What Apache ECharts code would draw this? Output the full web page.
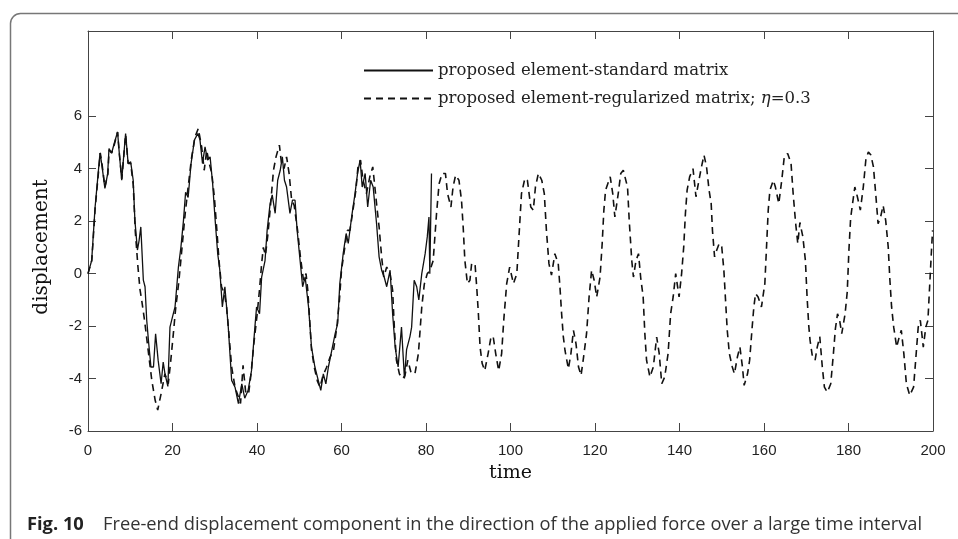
<!DOCTYPE html>
<html>
<head>
<meta charset="utf-8">
<script src="https://cdn.jsdelivr.net/npm/echarts@6/dist/echarts.min.js"></script>
<style>
  html, body { margin: 0; padding: 0; background: #fff; }
  #main { width: 958px; height: 539px; }
</style>
</head>
<body>
<div id="main"></div>
<script>
// solid curve: proposed element-standard matrix (ends near t = 81)
var tSolid = [0, 0.87, 1.66, 2.45, 2.84, 3.23, 4.0, 4.65, 4.97, 5.6, 6.2, 7.0, 7.4, 7.97, 8.9, 9.5, 10.1, 10.7, 11.1, 11.7,
  12.1, 12.5, 13.1, 13.5, 13.9, 14.3, 14.9, 15.5, 16.0, 16.6, 17.3, 17.8, 18.2, 18.9, 19.4, 20.0, 20.6, 21.4, 22.0, 22.6,
  23.1, 23.7, 24.4, 25.2, 26.0, 26.5, 27.1, 27.7, 28.3, 28.9, 29.5, 30.1, 30.7, 31.2, 31.8, 32.4, 33.2, 34.0, 34.8, 35.6,
  36.4, 37.1, 37.9, 38.7, 39.5, 39.9, 40.6, 41.1, 41.9, 42.4, 43.1, 43.6, 44.3, 44.9, 45.5, 46.0, 46.5, 47.0, 47.8, 48.4,
  49.0, 49.5, 50.2, 50.8, 51.4, 52.2, 52.9, 53.7, 54.5, 55.1, 55.7, 56.3, 56.9, 57.7, 58.5, 59.1, 59.6, 60.4, 61.1, 61.6,
  62.4, 63.2, 63.8, 64.4, 64.9, 65.6, 66.2, 66.9, 67.5, 68.3, 68.9, 69.5, 70.1, 70.7, 71.5, 72.1, 72.7, 73.4, 74.2, 74.9,
  75.4, 76.2, 76.6, 77.2, 77.8, 78.3, 79.0, 79.8, 80.3, 80.7, 80.9, 81.3];
var vSolid = [0, 0.5, 2.5, 3.9, 4.6, 4.2, 3.25, 3.8, 4.77, 4.6, 4.96, 5.4, 4.6, 3.56, 5.34, 4.2, 4.26, 3.56, 2.03, 0.9,
  1.27, 1.78, -0.25, -0.5, -1.78, -2.54, -3.56, -3.56, -2.29, -3.3, -4.2, -3.37, -3.8, -4.3, -2.04, -1.65, -1.27, 0.25, 1.02, 2.03,
  3.1, 2.9, 4.2, 5.1, 5.34, 5.1, 4.2, 4.83, 4.33, 4.45, 3.43, 2.03, 0.76, 0.13, -1.27, -0.5, -2.04, -4.07, -4.33, -4.96,
  -4.2, -4.75, -4.45, -3.7, -2.04, -1.27, -1.53, -0.13, 0.5, 1.65, 2.67, 3.0, 2.3, 3.56, 3.94, 4.45, 3.56, 3.3, 2.3, 2.8,
  2.8, 1.65, 0.5, -0.5, -0.13, -1.27, -2.8, -3.56, -4.07, -4.45, -3.82, -4.2, -3.56, -2.93, -2.29, -1.9, -0.38, 0.76, 1.53, 1.15,
  2.16, 3.05, 3.82, 4.33, 3.3, 3.82, 2.54, 3.56, 3.3, 1.9, 0.64, 0.13, -0.13, -0.5, 0.13, -1.53, -2.8, -3.56, -2.04, -4.0,
  -2.9, -2.4, -2.04, -0.25, -0.5, -1.0, 0, 0.76, 1.4, 2.16, 0, 3.82];

// dashed curve: proposed element-regularized matrix, eta = 0.3
var tDashed = [0, 0.9, 1.7, 2.5, 2.9, 3.3, 4.0, 4.7, 5.0, 5.6, 6.2, 7.0, 7.4, 8.0, 8.9, 9.5, 10.1, 10.7, 11.2, 11.8,
  12.3, 12.7, 13.4, 14.0, 14.6, 15.1, 15.9, 16.5, 17.3, 18.2, 19.0, 19.6, 20.2, 20.7, 21.5, 22.2, 23.0, 23.7, 24.5, 25.3,
  26.1, 26.9, 27.5, 28.1, 28.7, 29.3, 29.9, 30.5, 31.0, 31.6, 32.3, 32.8, 33.3, 34.0, 34.8, 35.6, 36.1, 36.7, 37.3, 38.0,
  38.6, 39.3, 40.0, 40.6, 41.1, 41.5, 42.0, 42.6, 43.2, 43.9, 44.5, 45.3, 45.8, 46.4, 47.0, 47.6, 48.2, 48.8, 49.6, 50.3,
  51.0, 51.6, 52.0, 52.4, 52.9, 53.6, 54.3, 54.9, 55.6, 56.4, 57.3, 58.1, 58.9, 59.5, 60.0, 60.8, 61.4, 62.0, 62.6, 63.4,
  63.9, 64.5, 65.1, 65.9, 66.7, 67.4, 67.9, 68.4, 68.9, 69.5, 70.0, 70.7, 71.5, 72.1, 72.5, 73.0, 73.7, 74.4, 75.0, 75.7,
  76.5, 77.4, 78.2, 79.0, 79.6, 80.3, 80.9, 81.7, 82.5, 83.1, 83.8, 84.6, 85.1, 85.9, 86.4, 87.0, 87.8, 88.4, 88.8, 89.2,
  89.8, 90.4, 90.8, 91.6, 92.0, 92.4, 92.8, 93.3, 93.9, 94.7, 95.4, 95.9, 96.5, 97.2, 97.9, 98.4, 99.1, 99.8, 100.7, 101.5,
  102.0, 102.6, 103.4, 104.0, 104.8, 105.4, 105.9, 106.6, 107.4, 108.0, 108.5, 109.1, 109.7, 110.5, 111.3, 111.7, 112.1, 112.5, 112.9, 113.7,
  114.3, 114.9, 115.5, 116.1, 116.7, 117.2, 118.0, 118.6, 119.2, 119.8, 120.4, 121.2, 121.7, 122.1, 122.5, 123.6, 124.2, 124.7, 125.5, 126.1,
  126.7, 127.7, 128.1, 128.7, 129.1, 129.7, 130.3, 130.8, 131.4, 131.8, 132.2, 133.0, 133.8, 134.6, 135.2, 135.8, 136.5, 137.3, 137.9, 138.5,
  139.1, 139.9, 140.5, 141.0, 141.4, 141.8, 142.4, 143.2, 143.9, 144.6, 145.2, 145.8, 146.4, 147.0, 147.5, 147.8, 148.3, 148.8, 149.4, 150.0,
  150.5, 150.9, 151.3, 151.8, 152.5, 153.0, 153.7, 154.3, 154.9, 155.3, 156.1, 156.6, 157.2, 157.6, 158.0, 158.6, 159.4, 160.2, 160.6, 161.0,
  161.4, 162.2, 162.7, 163.5, 164.2, 164.8, 165.6, 166.4, 166.9, 167.5, 168.0, 168.5, 169.2, 169.8, 170.2, 170.6, 170.9, 171.4, 172.1, 172.6,
  173.2, 173.8, 174.3, 175.0, 175.8, 176.4, 176.9, 177.4, 177.9, 178.4, 179.2, 179.7, 180.1, 180.5, 180.9, 181.5, 182.1, 182.8, 183.5, 184.1,
  184.7, 185.3, 185.9, 186.5, 187.0, 187.6, 188.2, 188.8, 189.4, 189.8, 190.2, 190.7, 191.4, 192.0, 192.5, 193.1, 193.7, 194.5, 195.4, 195.9,
  196.5, 197.0, 197.7, 198.3, 198.8, 199.2, 199.6, 199.9];
var vDashed = [0, 0.5, 2.5, 3.9, 4.6, 4.2, 3.3, 3.8, 4.7, 4.6, 4.9, 5.4, 4.6, 3.6, 5.3, 4.2, 4.2, 3.4, 1.6, 0.3,
  -0.6, -1.0, -1.8, -2.6, -3.4, -4.07, -4.83, -5.2, -4.58, -3.82, -4.2, -3.3, -2.29, -1.4, -0.3, 0.9, 2.29, 3.3, 4.4, 5.2,
  5.53, 4.83, 3.94, 4.7, 4.2, 3.82, 2.93, 1.65, 0.5, -0.5, -0.76, -1.27, -2.2, -3.56, -4.33, -4.7, -4.95, -3.5, -4.5, -4.6,
  -3.8, -2.6, -1.6, -0.6, 0.38, 1.0, 0.7, 1.53, 2.6, 3.94, 4.45, 4.9, 4.2, 4.0, 4.45, 3.82, 2.8, 2.6, 1.65, 0.6,
  -0.25, 0, -0.6, -1.6, -2.9, -3.6, -4.1, -4.33, -3.9, -3.6, -3.18, -2.93, -2.04, -1.02, 0.13, 1.02, 1.65, 1.65, 2.29, 3.18,
  4.07, 4.33, 3.56, 3.05, 3.69, 4.07, 3.3, 2.5, 1.78, 0.64, -0.13, 0.25, 0, -0.64, -2.04, -3.3, -3.82, -4.0, -3.9, -3.3,
  -3.8, -3.8, -3.05, -1.27, -0.4, 0, 0.1, 0.5, 2.3, 3.43, 3.82, 3.82, 3.05, 2.54, 3.3, 3.75, 3.56, 2.8, 1.78, 0.5,
  -0.38, -0.25, 0.38, 0.38, -0.5, -1.53, -2.8, -3.43, -3.7, -3.05, -2.4, -2.4, -3.05, -3.7, -3.05, -1.78, -0.38, 0.25, -0.38, 0,
  1.4, 3.05, 3.63, 3.56, 2.54, 2.42, 3.3, 3.82, 3.56, 3.05, 1.65, 0.38, -0.06, 0.76, 0.38, -0.5, -1.53, -2.4, -2.93, -3.63,
  -3.05, -2.16, -2.67, -3.56, -3.88, -3.3, -2.29, -0.89, 0.13, -0.25, -0.89, -0.13, 1.15, 2.42, 3.18, 3.69, 3.05, 2.16, 3.05, 3.82,
  3.94, 3.3, 2.03, 0.5, -0.13, 0.5, 0.76, -0.13, -0.89, -2.29, -3.3, -3.94, -3.56, -2.42, -3.05, -4.2, -3.94, -3.05, -1.53, -0.89,
  0, -0.89, 0, 1.02, 2.29, 3.18, 3.69, 4.0, 2.93, 3.56, 4.07, 4.52, 4.07, 3.18, 2.67, 1.65, 0.64, 0.89, 1.15, 1.02,
  0.13, -1.02, -2.16, -3.05, -3.56, -3.82, -3.18, -2.8, -3.56, -4.26, -3.82, -3.3, -2.04, -1.27, -0.76, -0.89, -1.27, -0.38, 1.02, 2.42,
  3.18, 3.56, 3.3, 2.67, 3.56, 4.45, 4.58, 4.2, 3.05, 1.9, 1.15, 1.95, 1.4, 0.5, -0.9, -2.0, -2.54, -3.1, -3.3, -2.8,
  -2.4, -3.56, -4.33, -4.52, -4.2, -3.1, -2.1, -1.53, -1.78, -2.29, -1.53, -0.7, 0.9, 2.1, 2.6, 3.3, 2.93, 2.42, 3.3, 4.33,
  4.64, 4.52, 4.07, 2.93, 1.9, 2.16, 2.6, 2.03, 1.02, -0.25, -1.27, -2.04, -2.8, -2.42, -2.16, -3.05, -4.2, -4.64, -4.33, -3.3,
  -2.04, -1.78, -2.8, -2.04, -1.78, -0.5, 0.76, 1.65];

var xTicks = [0, 20, 40, 60, 80, 100, 120, 140, 160, 180, 200];
var yTicks = [-6, -4, -2, 0, 2, 4, 6];

var nameSolid = 'proposed element-standard matrix';
var nameDashed = 'proposed element-regularized matrix; η=0.3';

function pairs(ts, vs) {
  var out = [];
  for (var i = 0; i < ts.length; i++) {
    out.push([ts[i], vs[i]]);
  }
  return out;
}

var chart = echarts.init(document.getElementById('main'));
var axisColor = '#444';
var tickFont = { fontFamily: 'Liberation Sans', fontSize: 15, color: '#222' };

chart.setOption({
  animation: false,
  grid: { left: 88, top: 31, right: 25, bottom: 108, show: false },
  legend: {
    orient: 'vertical',
    left: 363,
    top: 62,
    padding: 0,
    itemWidth: 69,
    itemHeight: 14,
    itemGap: 11,
    itemStyle: { opacity: 0 },
    data: [nameSolid, nameDashed],
    formatter: function (name) {
      return name.replace('η', '{i|η}');
    },
    textStyle: {
      fontFamily: 'DejaVu Serif',
      fontSize: 16.5,
      color: '#222',
      rich: { i: { fontFamily: 'DejaVu Serif', fontStyle: 'italic', fontSize: 16.5, color: '#222' } }
    }
  },
  xAxis: [{
    type: 'value',
    min: 0,
    max: 200,
    interval: 20,
    name: 'time',
    nameLocation: 'middle',
    nameGap: 33,
    nameTextStyle: { fontFamily: 'DejaVu Serif', fontSize: 19, color: '#111' },
    axisLine: { show: true, onZero: false, lineStyle: { color: axisColor, width: 1 } },
    axisTick: { show: true, inside: true, length: 8, lineStyle: { color: axisColor } },
    axisLabel: Object.assign({ margin: 12, customValues: xTicks }, tickFont),
    splitLine: { show: false }
  }, {
    type: 'value',
    position: 'top',
    min: 0,
    max: 200,
    interval: 20,
    axisLine: { show: true, onZero: false, lineStyle: { color: axisColor, width: 1 } },
    axisTick: { show: true, inside: true, length: 8, lineStyle: { color: axisColor } },
    axisLabel: { show: false },
    splitLine: { show: false }
  }],
  yAxis: [{
    type: 'value',
    min: -6,
    max: 9.25,
    axisLine: { show: true, onZero: false, lineStyle: { color: axisColor, width: 1 } },
    axisTick: { show: true, inside: true, length: 8, customValues: yTicks, lineStyle: { color: axisColor } },
    axisLabel: Object.assign({ margin: 6, customValues: yTicks }, tickFont),
    splitLine: { show: false }
  }, {
    type: 'value',
    position: 'right',
    min: -6,
    max: 9.25,
    axisLine: { show: true, onZero: false, lineStyle: { color: axisColor, width: 1 } },
    axisTick: { show: true, inside: true, length: 8, customValues: yTicks, lineStyle: { color: axisColor } },
    axisLabel: { show: false },
    splitLine: { show: false }
  }],
  series: [{
    name: nameSolid,
    type: 'line',
    data: pairs(tSolid, vSolid),
    showSymbol: false,
    symbol: 'none',
    lineStyle: { color: '#111', width: 1.3 },
    itemStyle: { color: '#111' },
    z: 3
  }, {
    name: nameDashed,
    type: 'line',
    data: pairs(tDashed, vDashed),
    showSymbol: false,
    symbol: 'none',
    lineStyle: { color: '#111', width: 1.6, type: [7, 5] },
    itemStyle: { color: '#111' },
    z: 2
  }],
  graphic: [{
    type: 'rect',
    shape: { x: 10.5, y: 13.5, width: 1000, height: 600, r: 10 },
    style: { fill: 'none', stroke: '#777', lineWidth: 1.5 },
    silent: true
  }, {
    type: 'text',
    x: 42,
    y: 247,
    rotation: Math.PI / 2,
    style: {
      text: 'displacement', fontFamily: 'DejaVu Serif', fontSize: 20, fill: '#111',
      align: 'center', verticalAlign: 'middle'
    }
  }, {
    type: 'text',
    left: 27,
    top: 516,
    style: { text: 'Fig. 10', fontFamily: 'Open Sans', fontWeight: 'bold', fontSize: 18.3, fill: '#222' }
  }, {
    type: 'text',
    left: 103,
    top: 516,
    style: {
      text: 'Free-end displacement component in the direction of the applied force over a large time interval',
      fontFamily: 'Open Sans', fontSize: 18.3, fill: '#333'
    }
  }]
});
</script>
</body>
</html>
